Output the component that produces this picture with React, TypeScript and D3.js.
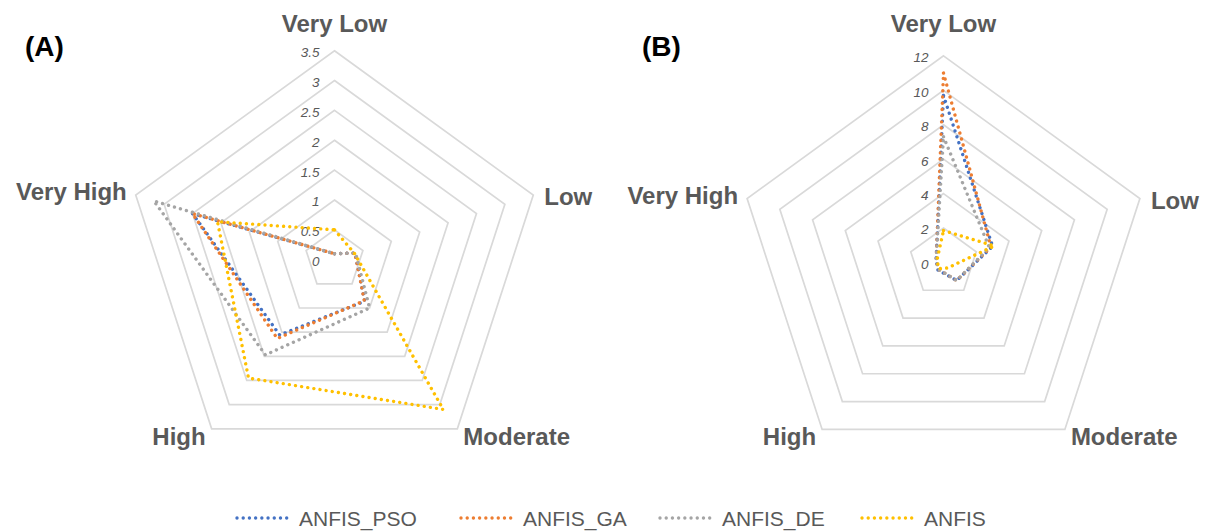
import React from "react";
import * as d3 from "d3";

const axes = ["Very Low", "Low", "Moderate", "High", "Very High"];
const seriesNames = ["ANFIS_PSO", "ANFIS_GA", "ANFIS_DE", "ANFIS"];
const colors = ["#4472C4", "#ED7D31", "#A5A5A5", "#FFC000"];

// Chart (A)
const aPSO = [0.1, 0.36, 0.86, 1.56, 2.5];
const aGA = [0.1, 0.36, 0.85, 1.63, 2.5];
const aDE = [0.1, 0.37, 1.0, 1.97, 3.18];
const aANFIS = [0.5, 0.35, 3.1, 2.45, 2.06];
const aTicks = [0, 0.5, 1, 1.5, 2, 2.5, 3, 3.5];
const aTickLabels = ["0", "0.5", "1", "1.5", "2", "2.5", "3", "3.5"];

// Chart (B)
const bPSO = [9.7, 3.0, 1.3, 0.55, 0.45];
const bGA = [11.0, 2.9, 1.3, 0.5, 0.45];
const bDE = [7.3, 2.8, 1.3, 0.5, 0.45];
const bANFIS = [1.85, 3.1, 0.4, 0.45, 0.4];
const bTicks = [0, 2, 4, 6, 8, 10, 12];
const bTickLabels = ["0", "2", "4", "6", "8", "10", "12"];

const W = 1211;
const H = 532;

type RadarProps = {
  cx: number;
  cy: number;
  R: number;
  max: number;
  ticks: number[];
  tickLabels: string[];
  data: number[][];
  title: string;
  titleX: number;
};

const ang = (i: number) => (i * 2 * Math.PI) / axes.length;

function Radar({ cx, cy, R, max, ticks, tickLabels, data, title, titleX }: RadarProps) {
  const r = d3.scaleLinear().domain([0, max]).range([0, R]);
  const line = d3
    .lineRadial<number>()
    .angle((_, i) => ang(i))
    .radius((d) => r(d))
    .curve(d3.curveLinearClosed);
  const pt = (i: number, rad: number) => [Math.sin(ang(i)) * rad, -Math.cos(ang(i)) * rad];

  const labelPos = (i: number) => {
    const [x, y] = pt(i, R);
    if (i === 0) return { x, y: 32 - cy, anchor: "middle" };
    if (i === 1) return { x: x + 11, y: y + 10, anchor: "start" };
    if (i === 2) return { x: x + 6, y: y + 16, anchor: "start" };
    if (i === 3) return { x: x - 6, y: y + 16, anchor: "end" };
    return { x: x - 9, y: y + 5, anchor: "end" };
  };

  return (
    <g>
      <text x={titleX} y={56} fontFamily="Liberation Sans, Arial, sans-serif" fontWeight="bold" fontSize={28} fill="#000">
        {title}
      </text>
      <g transform={`translate(${cx},${cy})`}>
        {ticks
          .filter((t) => t > 0)
          .map((t) => (
            <polygon
              key={t}
              points={axes.map((_, i) => pt(i, r(t)).join(",")).join(" ")}
              fill="none"
              stroke="#D9D9D9"
              strokeWidth={1.7}
            />
          ))}
        {ticks.map((t, k) => (
          <text
            key={"t" + t}
            x={-15}
            y={-r(t) + 6.5}
            textAnchor="end"
            fontFamily="Liberation Sans, Arial, sans-serif"
            fontStyle="italic"
            fontSize={13.5}
            fill="#595959"
          >
            {tickLabels[k]}
          </text>
        ))}
        {data.map((s, k) => (
          <path
            key={seriesNames[k]}
            d={line(s) || ""}
            fill="none"
            stroke={colors[k]}
            strokeWidth={3.4}
            strokeDasharray="0.01 6.2"
            strokeLinecap="round"
          />
        ))}
        {axes.map((a, i) => {
          const p = labelPos(i);
          return (
            <text
              key={a}
              x={p.x}
              y={p.y}
              textAnchor={p.anchor as any}
              fontFamily="Liberation Sans, Arial, sans-serif"
              fontWeight="bold"
              fontSize={24}
              fill="#595959"
            >
              {a}
            </text>
          );
        })}
      </g>
    </g>
  );
}

const legendX = [236, 460, 659, 861];

export default function App() {
  return (
    <svg width={W} height={H} style={{ position: "absolute", left: 0, top: 0, background: "#fff" }}>
      <rect width={W} height={H} fill="#fff" />
      <Radar
        cx={334.5}
        cy={259.7}
        R={209}
        max={3.5}
        ticks={aTicks}
        tickLabels={aTickLabels}
        data={[aPSO, aGA, aDE, aANFIS]}
        title="(A)"
        titleX={25}
      />
      <Radar
        cx={943.5}
        cy={262.4}
        R={206.5}
        max={12}
        ticks={bTicks}
        tickLabels={bTickLabels}
        data={[bPSO, bGA, bDE, bANFIS]}
        title="(B)"
        titleX={642}
      />
      <g>
        {seriesNames.map((n, k) => (
          <g key={n} transform={`translate(${legendX[k]},518)`}>
            <line x1={1} x2={53} y1={0} y2={0} stroke={colors[k]} strokeWidth={3.4} strokeDasharray="0.01 6.2" strokeLinecap="round" />
            <text x={63} y={8} fontFamily="Liberation Sans, Arial, sans-serif" fontSize={21} fill="#595959">
              {n}
            </text>
          </g>
        ))}
      </g>
    </svg>
  );
}
